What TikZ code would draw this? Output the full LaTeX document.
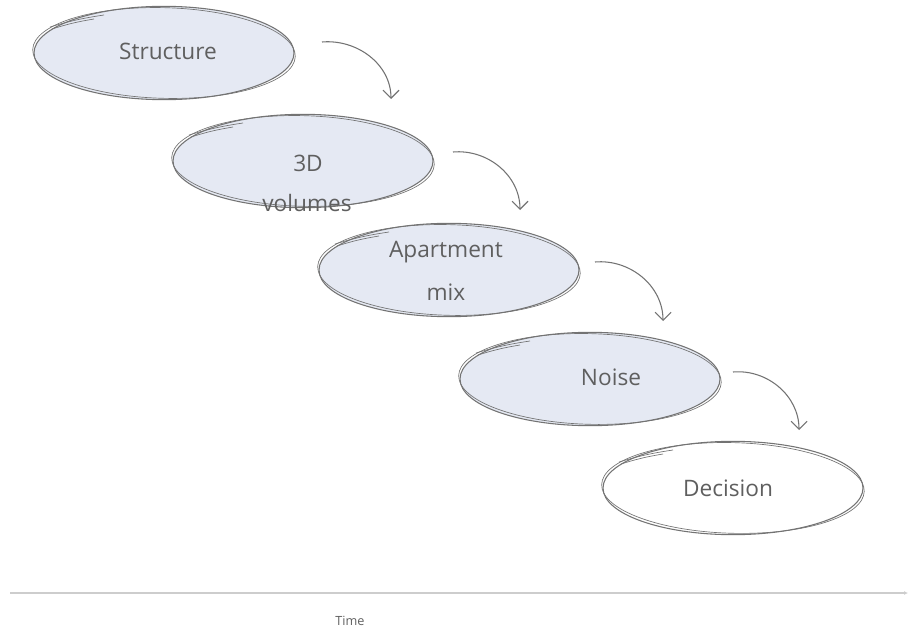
\documentclass[tikz,border=0pt]{standalone}
\usepackage{fontspec}
\setmainfont{Open Sans}
\usetikzlibrary{arrows.meta,shapes.geometric,calc}
\definecolor{fillb}{RGB}{229,233,243}
\definecolor{edge}{RGB}{115,115,115}
\definecolor{txt}{RGB}{95,95,95}
\definecolor{axis}{RGB}{205,205,205}
\tikzset{
  bubble/.style={ellipse, draw=edge, line width=0.8pt, fill=fillb, minimum width=195pt, minimum height=70pt, inner sep=0pt},
  whitebubble/.style={bubble, fill=white},
  sketch/.style={draw=edge, line width=0.5pt},
  lbl/.style={anchor=base, text=txt, font=\fontsize{17}{20}\selectfont, inner sep=0pt},
  flow/.style={draw=edge, line width=0.8pt, -{Straight Barb[length=6pt,width=12pt,line width=0.8pt]}},
}
\newcommand{\sketchy}[1]{%
  \draw[sketch, rotate around={-1.5:(#1.center)}] (#1.center) ellipse [x radius=98.5pt, y radius=34pt];
  \draw[sketch] ($(#1.center)+(-114,-26)$) to[bend left=4] ($(#1.center)+(-60,-38)$);
  \draw[sketch] ($(#1.center)+(-112,-24)$) to[bend left=4] ($(#1.center)+(-70,-34)$);
}
\begin{document}
\begin{tikzpicture}[x=0.75pt,y=-0.75pt]
\useasboundingbox (0,0) rectangle (910,631);

\node[bubble] (e1) at (164,53) {};
\node[bubble] (e2) at (303,161) {};
\node[bubble] (e3) at (449,270) {};
\node[bubble] (e4) at (590,379) {};
\node[whitebubble] (e5) at (733,488) {};
\sketchy{e1}\sketchy{e2}\sketchy{e3}\sketchy{e4}\sketchy{e5}

\node[lbl] (t1) at (168,60) {Structure};
\node[lbl] (t2a) at (308,172) {3D};
\node[lbl] (t2b) at (307,211) {volumes};
\node[lbl] (t3a) at (446,257) {Apartment};
\node[lbl] (t3b) at (446,300) {mix};
\node[lbl] (t4) at (611,385) {Noise};
\node[lbl] (t5) at (728,496) {Decision};

\coordinate (s1) at (322,42);  \coordinate (d1) at (391,99);
\coordinate (s2) at (453,152); \coordinate (d2) at (520,210);
\coordinate (s3) at (595,262); \coordinate (d3) at (663,321);
\coordinate (s4) at (733,372); \coordinate (d4) at (799,430);
\draw[flow] (s1) to[out=5,in=90] (d1);
\draw[flow] (s2) to[out=5,in=90] (d2);
\draw[flow] (s3) to[out=5,in=90] (d3);
\draw[flow] (s4) to[out=5,in=90] (d4);

\coordinate (tl) at (10,593); \coordinate (tr) at (908,593);
\draw[axis, line width=1.4pt, -{Latex[length=3pt,width=3pt]}] (tl) -- (tr);
\node[anchor=base, text=txt, font=\fontsize{9.5}{11}\selectfont, inner sep=0pt] (time) at (350,625) {Time};
\end{tikzpicture}
\end{document}
